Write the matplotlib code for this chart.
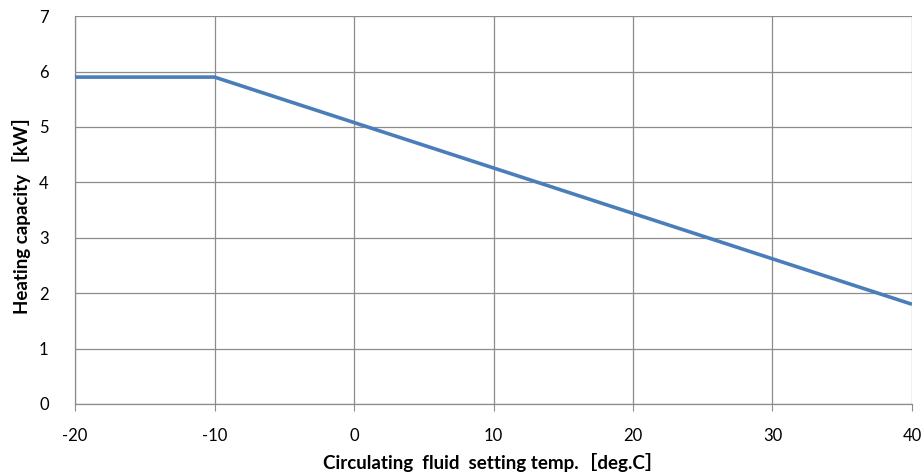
import matplotlib
matplotlib.use("Agg")
import matplotlib.pyplot as plt

# Heating capacity vs circulating fluid setting temperature
temps = [-20, -10, 40]
capacity = [5.9, 5.9, 1.8]
x_ticks = [-20, -10, 0, 10, 20, 30, 40]
y_ticks = [0, 1, 2, 3, 4, 5, 6, 7]

plt.rcParams['font.family'] = ['Lato', 'Noto Sans CJK JP', 'DejaVu Sans']
plt.rcParams['axes.unicode_minus'] = False

fig = plt.figure(figsize=(9.24, 4.75), dpi=100)
ax = fig.add_axes([0.0812, 0.1495, 0.9058, 0.8165])

ax.plot(temps, capacity, color='#4A7EBB', linewidth=2.6, solid_capstyle='butt', zorder=3)

ax.set_xlim(-20, 40)
ax.set_ylim(0, 7)
ax.set_xticks(x_ticks)
ax.set_yticks(y_ticks)
ax.grid(True, color='#8c8c8c', linewidth=0.9)
ax.set_axisbelow(True)

for side in ['top', 'right']:
    ax.spines[side].set_visible(False)
for side in ['left', 'bottom']:
    ax.spines[side].set_color('#8c8c8c')
    ax.spines[side].set_linewidth(0.9)

ax.tick_params(axis='x', direction='out', length=5, color='#8c8c8c', labelsize=12, pad=12)
ax.tick_params(axis='y', length=0, labelsize=12, pad=19)

ax.set_xlabel('Circulating  fluid  setting temp.［deg.C］', fontsize=13.5, fontweight='bold', labelpad=7)
ax.set_ylabel('Heating capacity［kW］', fontsize=13.5, fontweight='bold', labelpad=6)

fig.savefig('out.png', dpi=100)
